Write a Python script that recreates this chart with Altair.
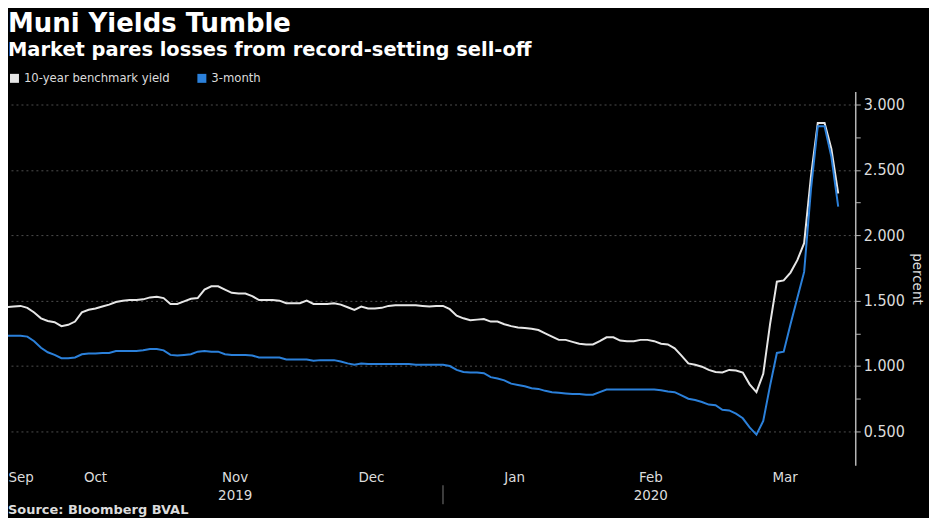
import altair as alt
import pandas as pd

# ---------------- data ----------------
series_names = ["10-year benchmark yield", "3-month"]

# one value per trading day, from Sep 26 2019 to Mar 26 2020
ten_year = [
    1.45, 1.45, 1.455, 1.46, 1.445, 1.41, 1.365, 1.345, 1.335, 1.305,
    1.315, 1.34, 1.41, 1.43, 1.44, 1.455, 1.47, 1.49, 1.50, 1.505,
    1.505, 1.51, 1.525, 1.53, 1.52, 1.475, 1.475, 1.495, 1.515, 1.52,
    1.585, 1.61, 1.61, 1.585, 1.56, 1.555, 1.555, 1.535, 1.505, 1.505,
    1.505, 1.50, 1.48, 1.48, 1.48, 1.50, 1.475, 1.475, 1.475, 1.48,
    1.47, 1.45, 1.43, 1.455, 1.44, 1.44, 1.445, 1.46, 1.465, 1.465,
    1.465, 1.465, 1.46, 1.455, 1.46, 1.46, 1.435, 1.385, 1.365, 1.35,
    1.355, 1.36, 1.34, 1.34, 1.32, 1.305, 1.295, 1.29, 1.285, 1.275,
    1.25, 1.225, 1.20, 1.20, 1.185, 1.17, 1.165, 1.165, 1.19, 1.22,
    1.22, 1.195, 1.19, 1.19, 1.20, 1.20, 1.19, 1.17, 1.165, 1.135,
    1.08, 1.02, 1.01, 0.995, 0.97, 0.955, 0.95, 0.97, 0.965, 0.95,
    0.86, 0.80, 0.94, 1.32, 1.645, 1.655, 1.715, 1.81, 1.94, 2.45,
    2.86, 2.86, 2.66, 2.32,
]
three_month = [
    1.232, 1.232, 1.232, 1.232, 1.225, 1.19, 1.14, 1.105, 1.085, 1.06,
    1.06, 1.065, 1.09, 1.095, 1.095, 1.10, 1.10, 1.115, 1.115, 1.115,
    1.115, 1.12, 1.13, 1.13, 1.12, 1.085, 1.08, 1.085, 1.09, 1.11,
    1.115, 1.11, 1.11, 1.09, 1.085, 1.085, 1.085, 1.08, 1.065, 1.065,
    1.065, 1.065, 1.05, 1.05, 1.05, 1.05, 1.04, 1.045, 1.045, 1.045,
    1.035, 1.02, 1.01, 1.02, 1.015, 1.015, 1.015, 1.015, 1.015, 1.015,
    1.015, 1.01, 1.01, 1.01, 1.01, 1.01, 1.0, 0.97, 0.955, 0.95,
    0.95, 0.945, 0.915, 0.905, 0.89, 0.865, 0.855, 0.845, 0.83, 0.825,
    0.81, 0.80, 0.795, 0.79, 0.785, 0.785, 0.78, 0.78, 0.80, 0.82,
    0.82, 0.82, 0.82, 0.82, 0.82, 0.82, 0.82, 0.815, 0.805, 0.80,
    0.775, 0.75, 0.74, 0.725, 0.705, 0.70, 0.665, 0.66, 0.635, 0.60,
    0.53, 0.475, 0.58, 0.85, 1.10, 1.11, 1.32, 1.52, 1.72, 2.35,
    2.835, 2.835, 2.60, 2.22,
]

# month labels (trading-day index of label centre) and month boundaries
months = ["Sep", "Oct", "Nov", "Dec", "Jan", "Feb", "Mar"]
month_mid = [3.1, 14, 34.5, 54.5, 75.5, 95.5, 115.2]
month_start = [3, 25, 44, 65, 86, 105]
years = ["2019", "2020"]
year_mid = [34.5, 95.5]
year_break = [65]
y_major = [0.5, 1.0, 1.5, 2.0, 2.5, 3.0]
y_all = [0.5, 0.75, 1.0, 1.25, 1.5, 1.75, 2.0, 2.25, 2.5, 2.75, 3.0]
source_text = ["Source: Bloomberg BVAL"]

# ---------------- build tables ----------------
n = len(ten_year)
df = pd.DataFrame({
    "idx": list(range(n)) * 2,
    "value": ten_year + three_month,
    "series": [series_names[0]] * n + [series_names[1]] * n,
})
mdf = pd.DataFrame({"mid": month_mid, "label": months})
ydf = pd.DataFrame({"mid": year_mid, "label": years})
bdf = pd.DataFrame({"b": year_break})
sdf = pd.DataFrame({"t": source_text})

W, H = 850, 375
FONT = "DejaVu Sans Condensed, Liberation Sans Narrow, DejaVu Sans, sans-serif"
BOLD = "DejaVu Sans, Verdana, sans-serif"
WHITE = "#e6e6e6"
BLUE = "#2b80da"
GRID = "#4d4d4d"
AXIS = "#b5b5b5"
TEXT = "#dcdcdc"

xscale = alt.Scale(domain=[1.16, 125.5], nice=False, zero=False)
yscale = alt.Scale(domain=[0.24, 3.10], nice=False, zero=False)

lines = alt.Chart(df).mark_line(strokeWidth=2, clip=True).encode(
    x=alt.X("idx:Q", scale=xscale, title=None,
            axis=alt.Axis(orient="bottom", values=month_start, labels=False,
                          grid=True, gridColor=GRID, gridDash=[2, 3], gridWidth=1,
                          ticks=True, tickColor=AXIS, tickSize=5,
                          domainColor=AXIS, domainWidth=1.5)),
    y=alt.Y("value:Q", scale=yscale, title="percent",
            axis=alt.Axis(orient="right", values=y_major, format=".3f",
                          grid=True, gridColor=GRID, gridDash=[2, 3], gridWidth=1,
                          ticks=False, labelPadding=8,
                          domainColor=AXIS, domainWidth=1.5,
                          labelColor=TEXT, labelFont=FONT, labelFontSize=16,
                          titleColor=TEXT, titleFont=FONT, titleFontSize=15,
                          titleFontWeight="normal", titlePadding=5)),
    color=alt.Color("series:N",
                    scale=alt.Scale(domain=series_names, range=[WHITE, BLUE]),
                    legend=alt.Legend(title=None, orient="none", direction="horizontal",
                                      legendX=0, legendY=-20, padding=0,
                                      symbolType="square", symbolSize=16,
                                      symbolStrokeWidth=5, labelFont=FONT,
                                      labelFontSize=13, labelColor=TEXT,
                                      labelOffset=3, columnPadding=19)),
)

minor = alt.Chart(df).mark_line(opacity=0, clip=True).encode(
    x=alt.X("idx:Q", scale=xscale, axis=None),
    y=alt.Y("value:Q", scale=yscale,
            axis=alt.Axis(orient="right", values=y_all, labels=False, grid=False,
                          domain=False, ticks=True, tickSize=5, tickColor=AXIS,
                          title=None)),
)

mtext = alt.Chart(mdf).mark_text(font=FONT, fontSize=15, color=TEXT,
                                 baseline="middle", align="center").encode(
    x=alt.X("mid:Q", scale=xscale, axis=None),
    y=alt.value(H + 12),
    text="label:N",
)
ytext = alt.Chart(ydf).mark_text(font=FONT, fontSize=15, color=TEXT,
                                 baseline="middle", align="center").encode(
    x=alt.X("mid:Q", scale=xscale, axis=None),
    y=alt.value(H + 30),
    text="label:N",
)
sep = alt.Chart(bdf).mark_rule(color="#777", strokeWidth=1).encode(
    x=alt.X("b:Q", scale=xscale, axis=None),
    y=alt.value(H + 20),
    y2=alt.value(H + 39),
)
src = alt.Chart(sdf).mark_text(font=BOLD, fontSize=13, fontWeight="bold",
                               color=TEXT, align="left", baseline="middle").encode(
    x=alt.value(0),
    y=alt.value(H + 45),
    text="t:N",
)

chart = alt.layer(lines, minor, mtext, ytext, sep, src).resolve_axis(
    y="independent"
).properties(
    width=W, height=H,
    padding={"left": 0, "right": 4, "top": 2, "bottom": 0},
    background="#000000",
    title=alt.Title(
        "Muni Yields Tumble",
        subtitle="Market pares losses from record-setting sell-off",
        anchor="start", font=BOLD, fontSize=26, fontWeight="bold", color="#ffffff",
        subtitleFont=BOLD, subtitleFontSize=19.5, subtitleFontWeight="bold",
        subtitleColor="#ffffff", subtitlePadding=4, offset=12,
    ),
).configure_view(stroke=None)

chart.save("out.html", embed_options={"renderer": "svg", "actions": False})
